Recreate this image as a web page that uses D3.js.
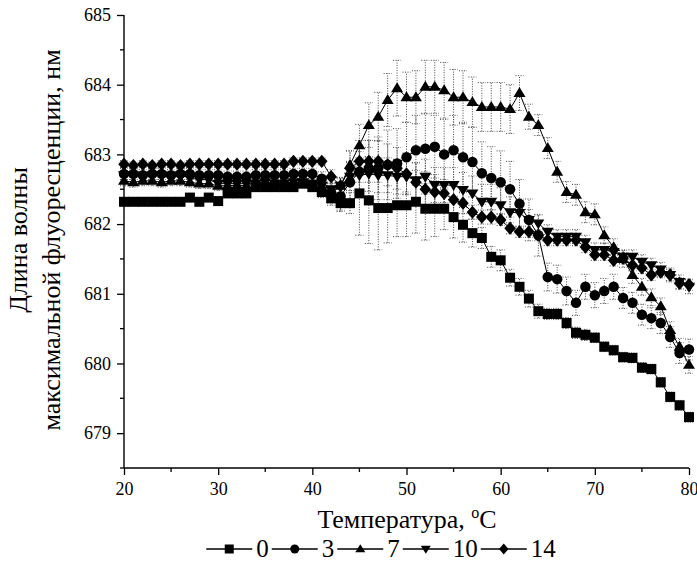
<!DOCTYPE html>
<html>
<head>
<meta charset="utf-8">
<script src="https://cdn.jsdelivr.net/npm/d3@7"></script>
<style>
  html, body { margin: 0; padding: 0; background: #fff; }
  svg { display: block; }
</style>
</head>
<body>
<script>
// Temperature grid, °C
const temps = [20,21,22,23,24,25,26,27,28,29,30,31,32,33,34,35,36,37,38,39,
  40,41,42,43,44,45,46,47,48,49,50,51,52,53,54,55,56,57,58,59,
  60,61,62,63,64,65,66,67,68,69,70,71,72,73,74,75,76,77,78,79,80];

// Series names (legend labels)
const seriesNames = ["0", "3", "7", "10", "14"];

// Wavelength of maximal fluorescence, nm
const s0 = [682.32,682.32,682.32,682.32,682.32,682.32,682.32,682.38,682.32,682.38,
  682.33,682.44,682.44,682.44,682.53,682.53,682.53,682.53,682.53,682.58,
  682.53,682.46,682.37,682.30,682.30,682.44,682.34,682.23,682.23,682.27,
  682.27,682.32,682.22,682.22,682.22,682.10,681.99,681.87,681.80,681.53,
  681.48,681.23,681.10,680.93,680.75,680.71,680.71,680.58,680.44,680.41,
  680.37,680.24,680.19,680.09,680.08,679.94,679.92,679.73,679.52,679.40,
  679.23];
const s3 = [682.72,682.72,682.70,682.72,682.72,682.70,682.72,682.72,682.70,682.70,
  682.70,682.68,682.68,682.68,682.70,682.70,682.70,682.70,682.72,682.72,
  682.72,682.65,682.45,682.40,682.60,682.75,682.80,682.80,682.85,682.87,
  682.96,683.06,683.08,683.11,683.00,683.06,682.96,682.89,682.73,682.66,
  682.60,682.50,682.29,682.06,681.84,681.24,681.21,681.04,680.87,681.10,
  680.98,681.04,681.10,680.94,680.87,680.70,680.65,680.58,680.38,680.15,
  680.20];
const s7 = [682.62,682.60,682.62,682.62,682.60,682.62,682.62,682.60,682.58,682.58,
  682.55,682.55,682.56,682.55,682.58,682.58,682.56,682.58,682.58,682.60,
  682.58,682.52,682.45,682.55,682.85,683.13,683.42,683.54,683.78,683.95,
  683.82,683.82,683.97,683.97,683.92,683.82,683.82,683.75,683.68,683.68,
  683.68,683.65,683.88,683.54,683.42,683.09,682.75,682.46,682.42,682.17,
  682.14,681.84,681.67,681.50,681.27,681.10,680.95,680.82,680.48,680.24,
  679.98];
const s10 = [682.70,682.70,682.68,682.70,682.70,682.68,682.70,682.66,682.64,682.64,
  682.58,682.58,682.58,682.58,682.58,682.60,682.58,682.58,682.60,682.60,
  682.58,682.55,682.50,682.55,682.68,682.70,682.72,682.70,682.70,682.68,
  682.68,682.63,682.68,682.56,682.56,682.56,682.49,682.44,682.32,682.32,
  682.27,682.17,682.16,682.06,682.01,681.89,681.82,681.82,681.82,681.74,
  681.63,681.63,681.60,681.53,681.53,681.46,681.41,681.35,681.27,681.17,
  681.10];
const s14 = [682.86,682.84,682.86,682.84,682.86,682.86,682.84,682.86,682.86,682.86,
  682.86,682.86,682.86,682.86,682.86,682.86,682.86,682.86,682.90,682.90,
  682.90,682.90,682.68,682.55,682.80,682.90,682.90,682.90,682.85,682.80,
  682.72,682.60,682.50,682.46,682.44,682.35,682.30,682.17,682.10,682.10,
  682.06,681.94,681.89,681.89,681.84,681.77,681.77,681.77,681.77,681.67,
  681.56,681.56,681.48,681.51,681.41,681.37,681.27,681.31,681.27,681.15,
  681.13];

// Standard deviations, nm
const e0 = [0.06,0.06,0.06,0.06,0.06,0.06,0.06,0.06,0.06,0.06,
  0.06,0.06,0.06,0.06,0.06,0.06,0.06,0.06,0.06,0.06,
  0.06,0.08,0.10,0.12,0.15,0.60,0.62,0.60,0.50,0.45,
  0.45,0.45,0.45,0.40,0.30,0.30,0.25,0.20,0.15,0.15,
  0.15,0.12,0.12,0.12,0.10,0.08,0.08,0.08,0.08,0.08,
  0.07,0.07,0.07,0.07,0.07,0.07,0.07,0.07,0.07,0.07,
  0.07];
const e3 = [0.08,0.08,0.08,0.08,0.08,0.08,0.08,0.08,0.08,0.08,
  0.08,0.08,0.08,0.08,0.08,0.08,0.08,0.08,0.08,0.08,
  0.08,0.10,0.15,0.20,0.30,0.35,0.40,0.45,0.50,0.50,
  0.50,0.50,0.50,0.45,0.50,0.50,0.50,0.50,0.45,0.45,
  0.45,0.40,0.35,0.30,0.30,0.20,0.20,0.20,0.18,0.18,
  0.18,0.18,0.18,0.15,0.15,0.15,0.15,0.15,0.15,0.15,
  0.15];
const e7 = [0.07,0.07,0.07,0.07,0.07,0.07,0.07,0.07,0.07,0.07,
  0.07,0.07,0.07,0.07,0.07,0.07,0.07,0.07,0.07,0.07,
  0.07,0.08,0.10,0.12,0.20,0.30,0.32,0.35,0.38,0.40,
  0.36,0.38,0.38,0.38,0.40,0.40,0.38,0.36,0.35,0.35,
  0.35,0.35,0.25,0.18,0.15,0.15,0.15,0.15,0.15,0.15,
  0.15,0.12,0.12,0.12,0.12,0.12,0.12,0.12,0.12,0.12,
  0.12];
const e10 = [0.06,0.06,0.06,0.06,0.06,0.06,0.06,0.06,0.06,0.06,
  0.06,0.06,0.06,0.06,0.06,0.06,0.06,0.06,0.06,0.06,
  0.06,0.06,0.08,0.10,0.20,0.25,0.25,0.25,0.25,0.25,
  0.25,0.25,0.25,0.25,0.25,0.25,0.25,0.25,0.25,0.25,
  0.25,0.22,0.20,0.15,0.12,0.10,0.10,0.10,0.10,0.10,
  0.10,0.10,0.10,0.10,0.10,0.10,0.10,0.10,0.10,0.10,
  0.10];
const e14 = [0.05,0.05,0.05,0.05,0.05,0.05,0.05,0.05,0.05,0.05,
  0.05,0.05,0.05,0.05,0.05,0.05,0.05,0.05,0.05,0.05,
  0.05,0.05,0.10,0.12,0.25,0.30,0.30,0.30,0.30,0.30,
  0.30,0.28,0.25,0.25,0.20,0.20,0.15,0.10,0.10,0.10,
  0.08,0.08,0.08,0.08,0.08,0.08,0.08,0.08,0.08,0.08,
  0.08,0.08,0.08,0.08,0.08,0.08,0.08,0.08,0.08,0.08,
  0.08];

// Axis ticks
const xTicks = [20, 30, 40, 50, 60, 70, 80];
const xMinorTicks = [25, 35, 45, 55, 65, 75];
const yTicks = [679, 680, 681, 682, 683, 684, 685];
const yMinorTicks = [678.5, 679.5, 680.5, 681.5, 682.5, 683.5, 684.5];

const seriesValues = [s0, s3, s7, s10, s14];
const seriesErrors = [e0, e3, e7, e10, e14];
const shapes = ["square", "circle", "triangle", "triangleDown", "diamond"];

const SERIF = "'Liberation Serif', 'Times New Roman', serif";
const W = 697, H = 567;
const svg = d3.select("body").append("svg").attr("width", W).attr("height", H);

const x = d3.scaleLinear().domain([20, 80]).range([124, 689]);
const y = d3.scaleLinear().domain([678.5, 685]).range([468, 15]);

// Marker outline generator, centred on (0,0)
function markerPath(shape, s) {
  const p = d3.path();
  if (shape === "square") {
    p.rect(-s / 2, -s / 2, s, s);
  } else if (shape === "circle") {
    p.arc(0, 0, s / 2, 0, 2 * Math.PI);
  } else if (shape === "triangle") {
    const h = s * 0.9;
    p.moveTo(0, -h * 0.6); p.lineTo(s / 2 + 0.5, h * 0.4); p.lineTo(-s / 2 - 0.5, h * 0.4); p.closePath();
  } else if (shape === "triangleDown") {
    const h = s * 0.9;
    p.moveTo(0, h * 0.6); p.lineTo(s / 2 + 0.5, -h * 0.4); p.lineTo(-s / 2 - 0.5, -h * 0.4); p.closePath();
  } else if (shape === "diamond") {
    const w = s * 1.05, h = s * 1.2;
    p.moveTo(0, -h / 2); p.lineTo(w / 2, 0); p.lineTo(0, h / 2); p.lineTo(-w / 2, 0); p.closePath();
  }
  return p.toString();
}

// Axes
const gx = svg.append("g").attr("transform", `translate(0,${y(678.5)})`);
gx.call(d3.axisBottom(x).tickValues(xTicks).tickSize(7).tickPadding(7).tickFormat(d3.format("d")));
gx.append("g").selectAll("line").data(xMinorTicks).join("line")
  .attr("x1", d => x(d)).attr("x2", d => x(d)).attr("y1", 0).attr("y2", 4)
  .attr("stroke", "#000").attr("stroke-width", 1.3);

const gy = svg.append("g").attr("transform", `translate(${x(20)},0)`);
gy.call(d3.axisLeft(y).tickValues(yTicks).tickSize(7).tickPadding(6).tickFormat(d3.format("d")));
gy.append("g").selectAll("line").data(yMinorTicks).join("line")
  .attr("x1", 0).attr("x2", -4).attr("y1", d => y(d)).attr("y2", d => y(d))
  .attr("stroke", "#000").attr("stroke-width", 1.3);

[gx, gy].forEach(g => {
  g.select(".domain").attr("stroke", "#000").attr("stroke-width", 1.4);
  g.selectAll(".tick line").attr("stroke", "#000").attr("stroke-width", 1.3);
  g.selectAll(".tick text").style("font-size", "18px")
    .style("font-family", SERIF).attr("fill", "#000");
});
gy.select(".domain").attr("d", `M0,${y(678.5)}V${y(685)}`);
gx.select(".domain").attr("d", `M${x(20)},0H${x(80)}`);

// Error bars (dotted)
const gErr = svg.append("g");
seriesValues.forEach((vals, si) => {
  const errs = seriesErrors[si];
  const g = gErr.append("g").attr("stroke", "#444").attr("stroke-width", 1)
    .attr("stroke-dasharray", "1,1.5").attr("fill", "none");
  temps.forEach((t, i) => {
    const cx = x(t), lo = y(vals[i] - errs[i]), hi = y(vals[i] + errs[i]);
    g.append("line").attr("x1", cx).attr("x2", cx).attr("y1", lo).attr("y2", hi);
    g.append("line").attr("x1", cx - 4).attr("x2", cx + 4).attr("y1", lo).attr("y2", lo);
    g.append("line").attr("x1", cx - 4).attr("x2", cx + 4).attr("y1", hi).attr("y2", hi);
  });
});

// Connecting lines
const line = d3.line().x((d, i) => x(temps[i])).y(d => y(d));
seriesValues.forEach(vals => {
  svg.append("path").attr("d", line(vals)).attr("fill", "none")
    .attr("stroke", "#000").attr("stroke-width", 1);
});

// Markers
seriesValues.forEach((vals, si) => {
  const sz = shapes[si] === "circle" ? 10.5 : (shapes[si] === "square" ? 10 : 11);
  svg.append("g").selectAll("path").data(vals).join("path")
    .attr("transform", (d, i) => `translate(${x(temps[i])},${y(d)})`)
    .attr("d", markerPath(shapes[si], sz))
    .attr("fill", "#000");
});

// Axis titles
const xt = svg.append("text").attr("x", 407).attr("y", 528)
  .attr("text-anchor", "middle").style("font-family", SERIF).style("font-size", "26px");
xt.append("tspan").text("Температура, ");
xt.append("tspan").style("font-size", "16px").attr("dy", -10).text("o");
xt.append("tspan").attr("dy", 10).text("C");

svg.append("text").attr("transform", "translate(27,240) rotate(-90)")
  .attr("text-anchor", "middle").style("font-family", SERIF).style("font-size", "26px")
  .text("Длина волны");
svg.append("text").attr("transform", "translate(60,240) rotate(-90)")
  .attr("text-anchor", "middle").style("font-family", SERIF).style("font-size", "26px")
  .text("максимальной флуоресценции, нм");

// Legend
const legend = svg.append("g");
const lineLen = 46, gap = 4;
let lx = 0;
const legY = 549;
seriesNames.forEach((name, si) => {
  const g = legend.append("g");
  g.append("line").attr("x1", lx).attr("x2", lx + lineLen).attr("y1", legY).attr("y2", legY)
    .attr("stroke", "#000").attr("stroke-width", 1.3);
  g.append("path").attr("transform", `translate(${lx + lineLen / 2},${legY})`)
    .attr("d", markerPath(shapes[si], 9)).attr("fill", "#000");
  const t = g.append("text").attr("x", lx + lineLen + gap).attr("y", legY + 8)
    .style("font-family", SERIF).style("font-size", "25px").text(name);
  lx += lineLen + gap + t.node().getComputedTextLength() + 3;
});
const legW = lx - 3;
legend.attr("transform", `translate(${381 - legW / 2},0)`);
</script>
</body>
</html>
